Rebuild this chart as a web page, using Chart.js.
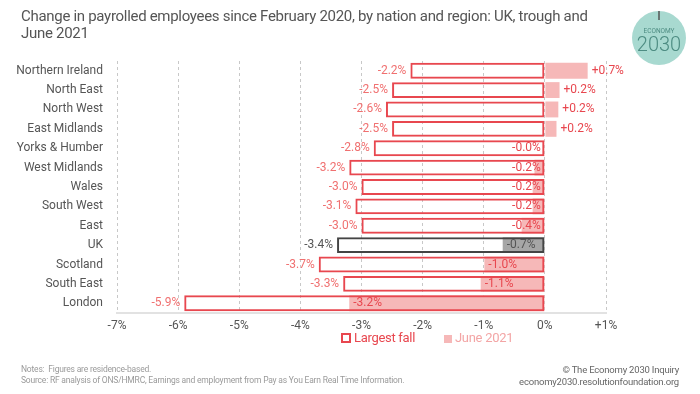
<!DOCTYPE html>
<html>
<head>
<meta charset="utf-8">
<title>Payrolled employees by nation and region</title>
<script src="https://cdn.jsdelivr.net/npm/chart.js@4.4.0/dist/chart.umd.min.js"></script>
<style>
  body { margin: 0; background: #fff; font-family: Roboto, sans-serif; }
  #wrap { position: relative; width: 700px; height: 394px; overflow: hidden; }
  #wrap canvas { position: absolute; left: 0; top: 0; }
  .title { position: absolute; left: 21px; top: 8px; width: 572px; font-size: 15px; letter-spacing: -0.3px; line-height: 17px; color: #555; }
  .legend { position: absolute; top: 330px; font-size: 13px; letter-spacing: -0.3px; }
  .legend span.box { display: inline-block; width: 8px; height: 8px; margin-right: 3px; vertical-align: -1px; }
  .notes { position: absolute; left: 21px; top: 364px; font-size: 8.5px; letter-spacing: -0.2px; line-height: 11px; color: #9a9a9a; }
  .credit { position: absolute; right: 21px; top: 364px; font-size: 9.5px; letter-spacing: -0.2px; line-height: 12px; color: #666; text-align: right; }
</style>
</head>
<body>
<div id="wrap">
  <canvas id="myChart" width="700" height="394"></canvas>
  <div class="title">Change in payrolled employees since February 2020, by nation and region: UK, trough and June 2021</div>
  <div class="legend" style="left:341px;color:#e8474f"><span class="box" style="border:2px solid #e8474f;width:6px;height:6px"></span>Largest fall</div>
  <div class="legend" style="left:444px;color:#f3a5a5"><span class="box" style="background:#f6b8b8"></span>June 2021</div>
  <div class="notes">Notes:&nbsp; Figures are residence-based.<br>Source: RF analysis of ONS/HMRC, Earnings and employment from Pay as You Earn Real Time Information.</div>
  <div class="credit">© The Economy 2030 Inquiry<br>economy2030.resolutionfoundation.org</div>
</div>
<script>
// data
const regions = ['Northern Ireland', 'North East', 'North West', 'East Midlands', 'Yorks & Humber',
  'West Midlands', 'Wales', 'South West', 'East', 'UK', 'Scotland', 'South East', 'London'];
const largestFall = [-2.2, -2.5, -2.6, -2.5, -2.8, -3.2, -3.0, -3.1, -3.0, -3.4, -3.7, -3.3, -5.9];
const june2021 = [0.7, 0.24, 0.22, 0.19, -0.02, -0.17, -0.2, -0.2, -0.38, -0.69, -0.99, -1.05, -3.2];
const xTicks = [-7, -6, -5, -4, -3, -2, -1, 0, 1];

const FONT = 'Roboto, sans-serif';
const RED = '#e8474f';
const PINK = '#f6b8b8';
const isUK = regions.map(r => r === 'UK');

function fmt(v) {
  return (v > 0 ? '+' : (v < 0 ? '-' : '')) + Math.abs(v).toFixed(1) + '%';
}

// value labels next to the bars
const barLabels = {
  id: 'barLabels',
  afterDatasetsDraw(chart) {
    const ctx = chart.ctx;
    const x = chart.scales.x;
    const zero = x.getPixelForValue(0);
    ctx.save();
    ctx.font = '12px ' + FONT;
    ctx.textBaseline = 'middle';
    chart.getDatasetMeta(0).data.forEach((bar, i) => {
      const v = largestFall[i];
      ctx.fillStyle = isUK[i] ? '#555' : '#f07070';
      ctx.textAlign = 'right';
      ctx.fillText(fmt(v), x.getPixelForValue(v) - 4, bar.y);
    });
    chart.getDatasetMeta(1).data.forEach((bar, i) => {
      const v = june2021[i];
      const px = x.getPixelForValue(v);
      ctx.fillStyle = isUK[i] ? '#555' : RED;
      if (v > 0) {
        ctx.textAlign = 'left';
        ctx.fillText(fmt(v), px + 4, bar.y);
      } else if (v > -0.5) {
        ctx.textAlign = 'right';
        ctx.fillText(fmt(v), zero - 4, bar.y);
      } else {
        ctx.textAlign = 'left';
        ctx.fillText(fmt(v), px + 4, bar.y);
      }
    });
    ctx.restore();
  }
};

// Economy 2030 badge
const badge = {
  id: 'badge',
  afterDraw(chart) {
    const ctx = chart.ctx;
    ctx.save();
    ctx.fillStyle = '#a8d9d0';
    ctx.beginPath();
    ctx.arc(659, 38, 27, 0, Math.PI * 2);
    ctx.fill();
    ctx.strokeStyle = '#555';
    ctx.lineWidth = 1.5;
    ctx.beginPath();
    ctx.moveTo(659, 11);
    ctx.lineTo(659, 20);
    ctx.stroke();
    ctx.fillStyle = '#4d8c82';
    ctx.textAlign = 'center';
    ctx.textBaseline = 'middle';
    ctx.font = '6.5px ' + FONT;
    ctx.fillText('ECONOMY', 659, 31);
    ctx.font = '300 20px ' + FONT;
    ctx.fillText('2030', 659, 46);
    ctx.restore();
  }
};

const ctx = document.getElementById('myChart').getContext('2d');
const myChart = new Chart(ctx, {
  type: 'bar',
  data: {
    labels: regions,
    datasets: [{
      label: 'Largest fall',
      data: largestFall,
      backgroundColor: 'rgba(0,0,0,0)',
      borderColor: isUK.map(u => u ? '#444' : RED),
      borderWidth: 2,
      borderSkipped: false,
      grouped: false,
      barPercentage: 0.82,
      categoryPercentage: 1
    }, {
      label: 'June 2021',
      data: june2021,
      backgroundColor: isUK.map(u => u ? '#a6a6a6' : PINK),
      borderWidth: 0,
      grouped: false,
      barPercentage: 0.82,
      categoryPercentage: 1
    }]
  },
  options: {
    indexAxis: 'y',
    responsive: false,
    animation: false,
    layout: { padding: { left: 12, right: 94, top: 61, bottom: 61 } },
    plugins: {
      legend: { display: false },
      tooltip: { enabled: false }
    },
    scales: {
      x: {
        min: -7,
        max: 1,
        afterBuildTicks(scale) { scale.ticks = xTicks.map(v => ({ value: v })); },
        afterFit(scale) { scale.height = 20; },
        ticks: {
          callback: v => (v > 0 ? '+' : '') + v + '%',
          color: '#555',
          font: { family: FONT, size: 12 },
          padding: 6
        },
        grid: { color: '#c8c8c8', drawTicks: false },
        border: { display: true, color: '#e2e2e2', width: 2, dash: [3, 3] }
      },
      y: {
        afterFit(scale) { scale.width = 105; },
        ticks: {
          color: '#555',
          font: { family: FONT, size: 12 },
          padding: 6,
          autoSkip: false
        },
        grid: { display: false },
        border: { display: false }
      }
    }
  },
  plugins: [barLabels, badge]
});
</script>
</body>
</html>
